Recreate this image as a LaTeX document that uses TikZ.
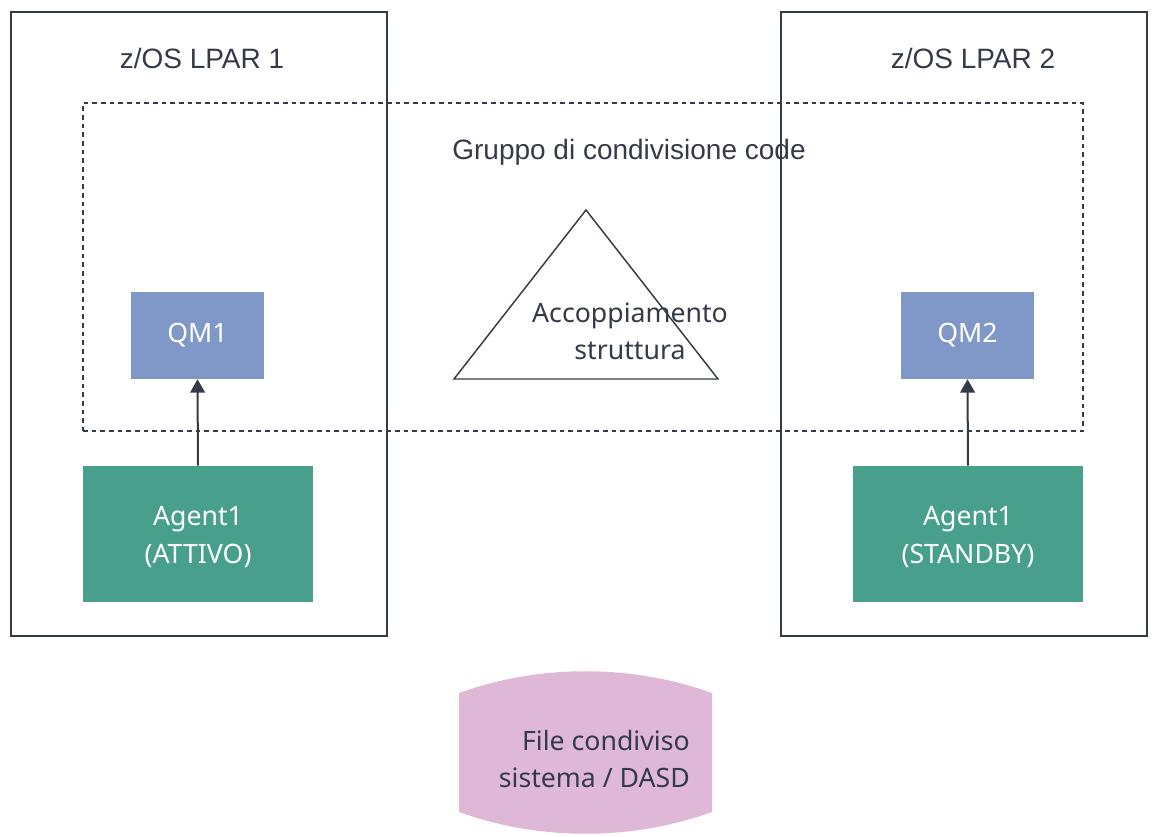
\documentclass[tikz,border=0pt]{standalone}
\usepackage{fontspec}
\setmainfont{Noto Sans}
\newfontfamily\titlefont{Liberation Sans}
\usetikzlibrary{fit,arrows.meta}
\definecolor{ink}{HTML}{343A48}
\definecolor{qmblue}{HTML}{7F98C8}
\definecolor{agentgreen}{HTML}{48A08C}
\definecolor{dasdpink}{HTML}{DFB8D8}
\tikzset{
  lpar/.style={draw=ink, line width=1.1pt, inner sep=0pt},
  grp/.style={draw=ink, line width=1pt, dash pattern=on 3.5pt off 3pt, inner sep=0pt},
  qmbox/.style={fill=qmblue, inner sep=0pt},
  agbox/.style={fill=agentgreen, inner sep=0pt},
  boxtext/.style={text=white, align=center, inner sep=0pt, font=\fontsize{20}{28.5}\selectfont},
  title/.style={text=ink, font=\titlefont\fontsize{21}{25}\selectfont},
  body/.style={text=ink, align=center, inner sep=0pt, font=\fontsize{20}{27.5}\selectfont},
  link/.style={draw=ink, line width=1.5pt, -{Triangle[length=10pt,width=11pt]}}
}
\begin{document}
\begin{tikzpicture}[x=0.75pt,y=-0.75pt]
\useasboundingbox (0,0) rectangle (1158,837);
% LPAR boxes
\coordinate (l1a) at (11,12); \coordinate (l1b) at (387,636);
\node[lpar, fit=(l1a)(l1b)] (lpar1) {};
\coordinate (l2a) at (781,12); \coordinate (l2b) at (1147,636);
\node[lpar, fit=(l2a)(l2b)] (lpar2) {};
\node[title] (t1) at (202,58) {z/OS LPAR 1};
\node[title] (t2) at (973,58) {z/OS LPAR 2};
% queue sharing group
\coordinate (ga) at (83,103); \coordinate (gb) at (1083,431);
\node[grp, fit=(ga)(gb)] (grp) {};
\node[title] (tg) at (629,152) {Gruppo di condivisione code};
% coupling facility triangle
\coordinate (tra) at (586,210); \coordinate (trb) at (718,379); \coordinate (trc) at (454,379);
\draw[ink, line width=1.1pt, line join=miter] (tra) -- (trb) -- (trc) -- cycle;
\node[body] (cf) at (630,331) {Accoppiamento\\struttura};
% queue managers
\coordinate (q1a) at (131,292); \coordinate (q1b) at (264,379);
\node[qmbox, fit=(q1a)(q1b)] (qm1) {};
\node[boxtext] (qm1t) at (qm1.center) {QM1};
\coordinate (q2a) at (901,292); \coordinate (q2b) at (1034,379);
\node[qmbox, fit=(q2a)(q2b)] (qm2) {};
\node[boxtext] (qm2t) at (qm2.center) {QM2};
% agents
\coordinate (a1a) at (83,466); \coordinate (a1b) at (313,602);
\node[agbox, fit=(a1a)(a1b)] (ag1) {};
\node[boxtext] (ag1t) at (198,537) {Agent1\\(ATTIVO)};
\coordinate (a2a) at (853,466); \coordinate (a2b) at (1083,602);
\node[agbox, fit=(a2a)(a2b)] (ag2) {};
\node[boxtext] (ag2t) at (968,537) {Agent1\\(STANDBY)};
% arrows
\draw[link] (ag1.north) -- (qm1.south);
\draw[link] (ag2.north) -- (qm2.south);
% shared file system
\coordinate (d1) at (459,693); \coordinate (d2) at (712,693);
\coordinate (d3) at (712,812); \coordinate (d4) at (459,812);
\fill[dasdpink] (d1) .. controls (540,664) and (631,664) .. (d2) -- (d3)
  .. controls (631,841) and (540,841) .. (d4) -- cycle;
\node[body, align=right, anchor=east] (dasd) at (690,759) {File condiviso\\sistema / DASD};
\end{tikzpicture}
\end{document}
